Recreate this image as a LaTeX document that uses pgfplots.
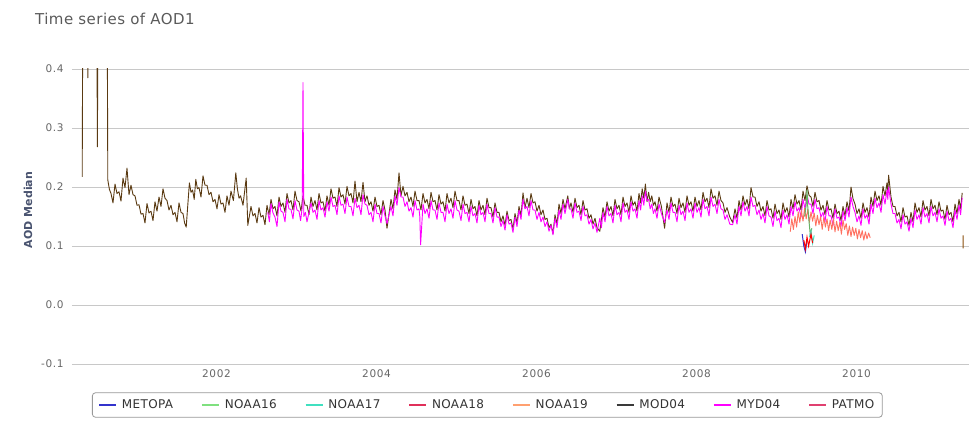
\documentclass[border=0pt]{standalone}
\usepackage{fontspec}
\setmainfont{DejaVu Sans}
\newfontfamily\tickfont[LetterSpace=6]{DejaVu Sans}
\newfontfamily\legfont[LetterSpace=3]{DejaVu Sans}
\newfontfamily\titlefont[LetterSpace=3]{DejaVu Sans}
\usepackage{pgfplots}
\pgfplotsset{compat=1.18}
\definecolor{gridc}{HTML}{C8C8C8}
\definecolor{tickc}{HTML}{666666}
\definecolor{titlec}{HTML}{5A5A5A}
\definecolor{ylabc}{HTML}{4A5470}
\definecolor{legc}{HTML}{333333}
\definecolor{legbord}{HTML}{999999}
\definecolor{metopa}{HTML}{3333CC}
\definecolor{noaa16}{HTML}{7FE07F}
\definecolor{noaa17}{HTML}{40E0C0}
\definecolor{noaa18}{HTML}{E0305A}
\definecolor{noaa19}{HTML}{FFA070}
\definecolor{noaa19p}{HTML}{FF7060}
\definecolor{mod04}{HTML}{5A3A12}
\definecolor{mod04l}{HTML}{3A3A3A}
\definecolor{myd04}{HTML}{FF00FF}
\definecolor{patmo}{HTML}{E04070}
\begin{document}
\begin{tikzpicture}
\path[use as bounding box] (0,0) rectangle (969pt,427pt);
\node[anchor=base west, inner sep=0pt, text=titlec, font=\titlefont\fontsize{15}{18}\selectfont] at (35pt,402pt) {Time series of AOD1};
\node[rotate=90, anchor=center, inner sep=0pt, text=ylabc, font=\bfseries\fontsize{11}{13}\selectfont] at (28pt,217pt) {AOD Median};
\begin{axis}[
  at={(72pt,63pt)}, anchor=south west,
  scale only axis, width=897pt, height=295pt,
  xmin=2000.0125, xmax=2011.225, ymin=-0.1, ymax=0.4,
  axis line style={draw=none},
  xtick={2002,2004,2006,2008,2010},
  xticklabels={2002,2004,2006,2008,2010},
  ytick={-0.1,0,0.1,0.2,0.3,0.4},
  yticklabels={-0.1,0.0,0.1,0.2,0.3,0.4},
  tick style={draw=none},
  ymajorgrids=true,
  major grid style={color=gridc, line width=0.9pt},
  ticklabel style={text=tickc, font=\tickfont\fontsize{10.5}{12}\selectfont},
  xticklabel style={anchor=north east, inner xsep=0pt, yshift=-2pt},
  yticklabel style={xshift=-5pt},
  legend columns=8,
  legend image code/.code={\draw[#1] (0pt,0pt) -- (17pt,0pt);},
  legend style={at={(0.0223,-0.139)}, anchor=west, draw=legbord, line width=0.8pt, rounded corners=3pt,
    font=\legfont\fontsize{12}{14}\selectfont, inner xsep=6pt, inner ysep=5pt,
    /tikz/every odd column/.append style={column sep=3pt},
    /tikz/every even column/.append style={column sep=26pt}},
]
\addlegendimage{draw=metopa, line width=1.6pt, sharp corners}\addlegendentry{\textcolor{legc}{METOPA}}
\addlegendimage{draw=noaa16, line width=1.6pt, sharp corners}\addlegendentry{\textcolor{legc}{NOAA16}}
\addlegendimage{draw=noaa17, line width=1.6pt, sharp corners}\addlegendentry{\textcolor{legc}{NOAA17}}
\addlegendimage{draw=noaa18, line width=1.6pt, sharp corners}\addlegendentry{\textcolor{legc}{NOAA18}}
\addlegendimage{draw=noaa19, line width=1.6pt, sharp corners}\addlegendentry{\textcolor{legc}{NOAA19}}
\addlegendimage{draw=mod04l, line width=1.6pt, sharp corners}\addlegendentry{\textcolor{legc}{MOD04}}
\addlegendimage{draw=myd04, line width=1.6pt, sharp corners}\addlegendentry{\textcolor{legc}{MYD04}}
\addlegendimage{draw=patmo, line width=1.6pt, sharp corners}\addlegendentry{\textcolor{legc}{PATMO}}
% MOD04
\addplot[forget plot, color=mod04, line width=0.9pt, line join=round] coordinates {
(2000.14,0.217)(2000.15,0.6)(2000.20,0.6)(2000.21,0.385)(2000.22,0.6)(2000.32,0.6)(2000.33,0.268)(2000.34,0.6)(2000.45,0.6)
(2000.46,0.212)(2000.48,0.196)(2000.50,0.189)(2000.525,0.173)(2000.55,0.205)(2000.575,0.189)(2000.60,0.192)(2000.625,0.176)
(2000.65,0.215)(2000.675,0.199)(2000.70,0.232)(2000.725,0.187)(2000.75,0.203)(2000.775,0.187)(2000.80,0.185)(2000.825,0.169)
(2000.85,0.170)(2000.875,0.154)(2000.90,0.155)(2000.925,0.139)(2000.95,0.172)(2000.975,0.156)(2001.00,0.159)(2001.025,0.143)
(2001.05,0.175)(2001.075,0.159)(2001.10,0.183)(2001.125,0.167)(2001.15,0.197)(2001.175,0.181)(2001.20,0.177)(2001.225,0.161)
(2001.25,0.169)(2001.275,0.153)(2001.30,0.157)(2001.325,0.141)(2001.35,0.173)(2001.375,0.157)(2001.40,0.155)(2001.42,0.139)
(2001.44,0.132)(2001.48,0.207)(2001.50,0.191)(2001.52,0.195)(2001.54,0.179)(2001.56,0.213)(2001.58,0.197)(2001.60,0.199)
(2001.625,0.183)(2001.65,0.219)(2001.675,0.203)(2001.70,0.203)(2001.725,0.187)(2001.75,0.191)(2001.775,0.175)(2001.80,0.179)
(2001.825,0.163)(2001.85,0.187)(2001.875,0.171)(2001.90,0.173)(2001.925,0.157)(2001.95,0.185)(2001.975,0.169)(2002.00,0.193)
(2002.03,0.177)(2002.06,0.224)(2002.08,0.197)(2002.10,0.181)(2002.12,0.185)(2002.15,0.169)(2002.19,0.215)(2002.21,0.135)
(2002.25,0.167)(2002.275,0.151)(2002.30,0.155)(2002.325,0.139)(2002.35,0.165)(2002.375,0.149)(2002.40,0.152)(2002.425,0.136)
(2002.45,0.169)(2002.475,0.153)(2002.50,0.179)(2002.525,0.163)(2002.55,0.167)(2002.575,0.151)(2002.60,0.183)(2002.625,0.167)
(2002.65,0.173)(2002.675,0.157)(2002.70,0.189)(2002.725,0.173)(2002.75,0.177)(2002.775,0.161)(2002.80,0.193)(2002.825,0.177)
(2002.85,0.175)(2002.875,0.159)(2002.90,0.185)(2002.925,0.169)(2002.95,0.169)(2002.975,0.153)(2003.00,0.183)(2003.025,0.167)
(2003.05,0.177)(2003.075,0.161)(2003.10,0.189)(2003.125,0.173)(2003.15,0.175)(2003.175,0.159)(2003.20,0.185)(2003.225,0.169)
(2003.25,0.197)(2003.275,0.181)(2003.30,0.183)(2003.325,0.167)(2003.35,0.199)(2003.375,0.183)(2003.40,0.187)(2003.425,0.171)
(2003.45,0.201)(2003.475,0.185)(2003.50,0.189)(2003.525,0.173)(2003.55,0.210)(2003.575,0.175)(2003.60,0.191)(2003.625,0.175)
(2003.65,0.208)(2003.675,0.175)(2003.70,0.185)(2003.725,0.169)(2003.75,0.175)(2003.775,0.159)(2003.80,0.183)(2003.825,0.167)
(2003.85,0.169)(2003.875,0.153)(2003.90,0.177)(2003.925,0.161)(2003.95,0.130)(2004.00,0.179)(2004.025,0.163)(2004.05,0.195)
(2004.075,0.179)(2004.10,0.224)(2004.125,0.185)(2004.15,0.201)(2004.175,0.185)(2004.20,0.191)(2004.225,0.175)(2004.25,0.183)
(2004.275,0.167)(2004.30,0.193)(2004.325,0.177)(2004.35,0.177)(2004.375,0.161)(2004.40,0.189)(2004.425,0.173)(2004.45,0.179)
(2004.475,0.163)(2004.50,0.191)(2004.525,0.175)(2004.55,0.177)(2004.575,0.161)(2004.60,0.187)(2004.625,0.171)(2004.65,0.175)
(2004.675,0.159)(2004.70,0.189)(2004.725,0.173)(2004.75,0.181)(2004.775,0.165)(2004.80,0.193)(2004.825,0.177)(2004.85,0.177)
(2004.875,0.161)(2004.90,0.185)(2004.925,0.169)(2004.95,0.171)(2004.975,0.155)(2005.00,0.179)(2005.025,0.163)(2005.05,0.167)
(2005.075,0.151)(2005.10,0.177)(2005.125,0.161)(2005.15,0.169)(2005.175,0.153)(2005.20,0.181)(2005.225,0.165)(2005.25,0.165)
(2005.275,0.149)(2005.30,0.173)(2005.325,0.157)(2005.35,0.157)(2005.375,0.141)(2005.40,0.151)(2005.425,0.135)(2005.45,0.159)
(2005.475,0.143)(2005.50,0.145)(2005.525,0.129)(2005.55,0.155)(2005.575,0.139)(2005.60,0.167)(2005.625,0.151)(2005.65,0.190)
(2005.675,0.165)(2005.70,0.181)(2005.725,0.165)(2005.75,0.189)(2005.775,0.173)(2005.80,0.175)(2005.825,0.159)(2005.85,0.169)
(2005.875,0.153)(2005.90,0.161)(2005.925,0.145)(2005.95,0.147)(2005.975,0.131)(2006.00,0.137)(2006.025,0.121)(2006.05,0.153)
(2006.075,0.137)(2006.10,0.171)(2006.125,0.155)(2006.15,0.179)(2006.175,0.163)(2006.21,0.185)(2006.23,0.163)(2006.25,0.173)
(2006.275,0.157)(2006.30,0.181)(2006.325,0.165)(2006.35,0.169)(2006.375,0.153)(2006.40,0.177)(2006.425,0.161)(2006.45,0.163)
(2006.475,0.147)(2006.50,0.153)(2006.525,0.137)(2006.55,0.147)(2006.575,0.131)(2006.61,0.125)(2006.65,0.165)(2006.675,0.149)
(2006.70,0.175)(2006.725,0.159)(2006.75,0.167)(2006.775,0.151)(2006.80,0.179)(2006.825,0.163)(2006.85,0.169)(2006.875,0.153)
(2006.90,0.183)(2006.925,0.167)(2006.95,0.173)(2006.975,0.157)(2007.00,0.185)(2007.025,0.169)(2007.05,0.175)(2007.075,0.159)
(2007.10,0.189)(2007.12,0.173)(2007.14,0.197)(2007.16,0.181)(2007.18,0.205)(2007.20,0.175)(2007.22,0.191)(2007.24,0.175)
(2007.26,0.185)(2007.28,0.169)(2007.30,0.175)(2007.325,0.159)(2007.35,0.183)(2007.38,0.167)(2007.42,0.130)(2007.45,0.173)
(2007.475,0.157)(2007.50,0.183)(2007.525,0.167)(2007.55,0.171)(2007.575,0.155)(2007.60,0.181)(2007.625,0.165)(2007.65,0.173)
(2007.675,0.157)(2007.70,0.185)(2007.725,0.169)(2007.75,0.175)(2007.775,0.159)(2007.80,0.183)(2007.825,0.167)(2007.85,0.177)
(2007.875,0.161)(2007.90,0.191)(2007.925,0.175)(2007.95,0.181)(2007.975,0.165)(2008.00,0.197)(2008.025,0.181)(2008.05,0.185)
(2008.075,0.169)(2008.10,0.193)(2008.125,0.177)(2008.15,0.173)(2008.175,0.157)(2008.20,0.165)(2008.235,0.149)(2008.27,0.140)
(2008.30,0.163)(2008.325,0.147)(2008.35,0.177)(2008.375,0.161)(2008.40,0.185)(2008.425,0.169)(2008.45,0.179)(2008.475,0.163)
(2008.50,0.199)(2008.525,0.183)(2008.55,0.183)(2008.575,0.167)(2008.60,0.175)(2008.625,0.159)(2008.65,0.167)(2008.675,0.151)
(2008.70,0.177)(2008.725,0.161)(2008.75,0.163)(2008.775,0.147)(2008.80,0.171)(2008.825,0.155)(2008.85,0.161)(2008.875,0.145)
(2008.90,0.173)(2008.925,0.157)(2008.95,0.165)(2008.975,0.149)(2009.00,0.179)(2009.025,0.163)(2009.05,0.187)(2009.075,0.171)
(2009.10,0.177)(2009.125,0.161)(2009.15,0.193)(2009.175,0.177)(2009.20,0.202)(2009.225,0.186)(2009.25,0.183)(2009.275,0.167)
(2009.30,0.191)(2009.325,0.175)(2009.35,0.177)(2009.375,0.161)(2009.40,0.169)(2009.425,0.153)(2009.45,0.177)(2009.475,0.161)
(2009.50,0.163)(2009.525,0.147)(2009.55,0.171)(2009.575,0.155)(2009.60,0.159)(2009.625,0.143)(2009.65,0.167)(2009.675,0.151)
(2009.70,0.175)(2009.725,0.159)(2009.75,0.200)(2009.775,0.180)(2009.80,0.171)(2009.825,0.155)(2009.85,0.163)(2009.875,0.147)
(2009.90,0.173)(2009.925,0.157)(2009.95,0.165)(2009.975,0.149)(2010.00,0.183)(2010.025,0.167)(2010.05,0.193)(2010.075,0.177)
(2010.10,0.185)(2010.125,0.169)(2010.15,0.201)(2010.175,0.185)(2010.20,0.207)(2010.21,0.191)(2010.22,0.220)(2010.25,0.183)
(2010.275,0.167)(2010.30,0.167)(2010.325,0.151)(2010.35,0.157)(2010.375,0.141)(2010.40,0.165)(2010.425,0.149)(2010.45,0.151)
(2010.475,0.135)(2010.50,0.157)(2010.525,0.141)(2010.55,0.173)(2010.575,0.157)(2010.60,0.165)(2010.625,0.149)(2010.65,0.177)
(2010.675,0.161)(2010.70,0.167)(2010.725,0.151)(2010.75,0.179)(2010.775,0.163)(2010.80,0.169)(2010.825,0.153)(2010.85,0.175)
(2010.875,0.159)(2010.90,0.161)(2010.925,0.145)(2010.95,0.169)(2010.975,0.153)(2011.00,0.157)(2011.025,0.141)(2011.05,0.171)
(2011.075,0.155)(2011.10,0.179)(2011.12,0.163)(2011.14,0.190)
};
% MYD04
\addplot[forget plot, color=myd04, line width=0.9pt, line join=round] coordinates {
(2002.46,0.157)(2002.48,0.141)(2002.50,0.172)(2002.525,0.156)(2002.55,0.149)(2002.575,0.133)(2002.60,0.175)(2002.625,0.159)
(2002.65,0.157)(2002.675,0.141)(2002.70,0.179)(2002.725,0.163)(2002.75,0.162)(2002.775,0.146)(2002.80,0.177)(2002.825,0.161)
(2002.85,0.159)(2002.87,0.143)(2002.89,0.165)(2002.90,0.377)(2002.91,0.150)(2002.93,0.157)(2002.95,0.141)(2003.00,0.173)
(2003.025,0.157)(2003.05,0.161)(2003.075,0.145)(2003.10,0.177)(2003.125,0.161)(2003.15,0.165)(2003.175,0.149)(2003.20,0.175)
(2003.225,0.159)(2003.25,0.183)(2003.275,0.167)(2003.30,0.169)(2003.325,0.153)(2003.35,0.185)(2003.375,0.169)(2003.40,0.171)
(2003.425,0.155)(2003.45,0.183)(2003.475,0.167)(2003.50,0.167)(2003.525,0.151)(2003.55,0.181)(2003.575,0.165)(2003.60,0.169)
(2003.625,0.153)(2003.65,0.187)(2003.675,0.171)(2003.70,0.169)(2003.725,0.153)(2003.75,0.157)(2003.775,0.141)(2003.80,0.171)
(2003.825,0.155)(2003.85,0.155)(2003.875,0.139)(2003.90,0.167)(2003.925,0.151)(2003.95,0.138)(2004.00,0.167)(2004.025,0.151)
(2004.05,0.185)(2004.075,0.169)(2004.10,0.199)(2004.125,0.183)(2004.15,0.183)(2004.175,0.167)(2004.20,0.175)(2004.225,0.159)
(2004.25,0.165)(2004.275,0.149)(2004.30,0.177)(2004.325,0.161)(2004.35,0.163)(2004.36,0.150)(2004.37,0.102)(2004.40,0.171)
(2004.425,0.155)(2004.45,0.163)(2004.475,0.147)(2004.50,0.177)(2004.525,0.161)(2004.55,0.161)(2004.575,0.145)(2004.60,0.173)
(2004.625,0.157)(2004.65,0.157)(2004.675,0.141)(2004.70,0.171)(2004.725,0.155)(2004.75,0.163)(2004.775,0.147)(2004.80,0.177)
(2004.825,0.161)(2004.85,0.159)(2004.875,0.143)(2004.90,0.171)(2004.925,0.155)(2004.95,0.157)(2004.975,0.141)(2005.00,0.167)
(2005.025,0.151)(2005.05,0.155)(2005.075,0.139)(2005.10,0.169)(2005.125,0.153)(2005.15,0.157)(2005.175,0.141)(2005.20,0.171)
(2005.225,0.155)(2005.25,0.155)(2005.275,0.139)(2005.30,0.165)(2005.325,0.149)(2005.35,0.149)(2005.375,0.133)(2005.40,0.143)
(2005.425,0.127)(2005.45,0.153)(2005.475,0.137)(2005.50,0.139)(2005.525,0.123)(2005.55,0.149)(2005.575,0.133)(2005.60,0.161)
(2005.625,0.145)(2005.65,0.179)(2005.675,0.163)(2005.70,0.167)(2005.725,0.151)(2005.75,0.177)(2005.775,0.161)(2005.80,0.161)
(2005.825,0.145)(2005.85,0.157)(2005.875,0.141)(2005.90,0.149)(2005.925,0.133)(2005.95,0.141)(2005.975,0.125)(2006.00,0.135)
(2006.025,0.119)(2006.05,0.147)(2006.075,0.131)(2006.10,0.161)(2006.125,0.145)(2006.15,0.171)(2006.175,0.155)(2006.21,0.179)
(2006.23,0.163)(2006.25,0.163)(2006.275,0.147)(2006.30,0.173)(2006.325,0.157)(2006.35,0.159)(2006.375,0.143)(2006.40,0.167)
(2006.425,0.151)(2006.45,0.153)(2006.475,0.137)(2006.50,0.145)(2006.525,0.129)(2006.55,0.139)(2006.575,0.123)(2006.61,0.147)
(2006.63,0.131)(2006.65,0.157)(2006.675,0.141)(2006.70,0.167)(2006.725,0.151)(2006.75,0.155)(2006.775,0.139)(2006.80,0.169)
(2006.825,0.153)(2006.85,0.157)(2006.875,0.141)(2006.90,0.173)(2006.925,0.157)(2006.95,0.161)(2006.975,0.145)(2007.00,0.175)
(2007.025,0.159)(2007.05,0.163)(2007.075,0.147)(2007.10,0.177)(2007.12,0.161)(2007.14,0.185)(2007.16,0.169)(2007.18,0.193)
(2007.20,0.177)(2007.22,0.179)(2007.24,0.163)(2007.26,0.171)(2007.28,0.155)(2007.30,0.163)(2007.325,0.147)(2007.35,0.171)
(2007.38,0.155)(2007.42,0.140)(2007.45,0.161)(2007.475,0.145)(2007.50,0.173)(2007.525,0.157)(2007.55,0.157)(2007.575,0.141)
(2007.60,0.169)(2007.625,0.153)(2007.65,0.159)(2007.675,0.143)(2007.70,0.173)(2007.725,0.157)(2007.75,0.163)(2007.775,0.147)
(2007.80,0.173)(2007.825,0.157)(2007.85,0.165)(2007.875,0.149)(2007.90,0.179)(2007.925,0.163)(2007.95,0.167)(2007.975,0.151)
(2008.00,0.183)(2008.025,0.167)(2008.05,0.171)(2008.075,0.155)(2008.10,0.179)(2008.125,0.163)(2008.15,0.161)(2008.175,0.145)
(2008.20,0.153)(2008.235,0.137)(2008.27,0.136)(2008.30,0.153)(2008.325,0.137)(2008.35,0.167)(2008.375,0.151)(2008.40,0.175)
(2008.425,0.159)(2008.45,0.167)(2008.475,0.151)(2008.50,0.183)(2008.525,0.167)(2008.55,0.169)(2008.575,0.153)(2008.60,0.161)
(2008.625,0.145)(2008.65,0.155)(2008.675,0.139)(2008.70,0.167)(2008.725,0.151)(2008.75,0.149)(2008.775,0.133)(2008.80,0.159)
(2008.825,0.143)(2008.85,0.147)(2008.875,0.131)(2008.90,0.161)(2008.925,0.145)(2008.95,0.153)(2008.975,0.137)(2009.00,0.167)
(2009.025,0.151)(2009.05,0.175)(2009.075,0.159)(2009.10,0.165)(2009.125,0.149)(2009.15,0.179)(2009.175,0.163)(2009.20,0.187)
(2009.225,0.171)(2009.25,0.171)(2009.275,0.155)(2009.30,0.179)(2009.325,0.163)(2009.35,0.165)(2009.375,0.149)(2009.40,0.157)
(2009.425,0.141)(2009.45,0.167)(2009.475,0.151)(2009.50,0.151)(2009.525,0.135)(2009.55,0.163)(2009.575,0.147)(2009.60,0.149)
(2009.625,0.133)(2009.65,0.159)(2009.675,0.143)(2009.70,0.165)(2009.725,0.149)(2009.75,0.183)(2009.775,0.167)(2009.80,0.157)
(2009.825,0.141)(2009.85,0.151)(2009.875,0.135)(2009.90,0.163)(2009.925,0.147)(2009.95,0.153)(2009.975,0.137)(2010.00,0.171)
(2010.025,0.155)(2010.05,0.181)(2010.075,0.165)(2010.10,0.173)(2010.125,0.157)(2010.15,0.187)(2010.175,0.171)(2010.20,0.195)
(2010.21,0.179)(2010.22,0.200)(2010.25,0.171)(2010.275,0.155)(2010.30,0.155)(2010.325,0.139)(2010.35,0.145)(2010.375,0.129)
(2010.40,0.153)(2010.425,0.137)(2010.45,0.141)(2010.475,0.125)(2010.50,0.147)(2010.525,0.131)(2010.55,0.161)(2010.575,0.145)
(2010.60,0.153)(2010.625,0.137)(2010.65,0.165)(2010.675,0.149)(2010.70,0.155)(2010.725,0.139)(2010.75,0.167)(2010.775,0.151)
(2010.80,0.157)(2010.825,0.141)(2010.85,0.163)(2010.875,0.147)(2010.90,0.151)(2010.925,0.135)(2010.95,0.159)(2010.975,0.143)
(2011.00,0.147)(2011.025,0.131)(2011.05,0.161)(2011.075,0.145)(2011.10,0.169)(2011.12,0.153)(2011.14,0.182)
};
% NOAA19
\addplot[forget plot, color=noaa19p, line width=0.9pt, line join=round] coordinates {
(2008.99,0.124)(2009.01,0.146)(2009.03,0.128)(2009.05,0.150)(2009.07,0.132)(2009.09,0.158)(2009.11,0.140)(2009.13,0.160)
(2009.15,0.142)(2009.17,0.164)(2009.19,0.146)(2009.21,0.162)(2009.23,0.140)(2009.25,0.158)(2009.27,0.142)(2009.29,0.156)
(2009.31,0.134)(2009.33,0.152)(2009.35,0.136)(2009.37,0.150)(2009.39,0.128)(2009.41,0.148)(2009.43,0.132)(2009.45,0.146)
(2009.47,0.126)(2009.49,0.144)(2009.51,0.128)(2009.53,0.146)(2009.55,0.124)(2009.57,0.142)(2009.59,0.126)(2009.61,0.140)
(2009.63,0.120)(2009.65,0.144)(2009.67,0.128)(2009.69,0.138)(2009.71,0.118)(2009.73,0.134)(2009.75,0.116)(2009.77,0.132)
(2009.79,0.118)(2009.81,0.130)(2009.83,0.112)(2009.85,0.128)(2009.87,0.114)(2009.89,0.126)(2009.91,0.110)(2009.93,0.124)
(2009.95,0.112)(2009.97,0.122)(2009.99,0.114)
};
\addplot[forget plot, color=mod04!70!orange, line width=1pt] coordinates {(2011.15,0.118)(2011.152,0.096)};
% NOAA16
\addplot[forget plot, color=noaa16!80!black, line width=1pt] coordinates {
(2009.17,0.150)(2009.19,0.170)(2009.20,0.195)(2009.21,0.165)(2009.24,0.120)(2009.26,0.130)};
% NOAA17
\addplot[forget plot, color=noaa17, line width=1pt] coordinates {
(2009.23,0.115)(2009.25,0.125)(2009.27,0.105)(2009.29,0.118)};
% METOPA
\addplot[forget plot, color=metopa, line width=1pt] coordinates {
(2009.14,0.120)(2009.16,0.100)(2009.18,0.090)(2009.20,0.110)};
% NOAA18
\addplot[forget plot, color=red, line width=1pt] coordinates {
(2009.16,0.110)(2009.18,0.095)(2009.20,0.115)(2009.22,0.100)(2009.25,0.120)(2009.27,0.105)};
\end{axis}
\end{tikzpicture}
\end{document}
